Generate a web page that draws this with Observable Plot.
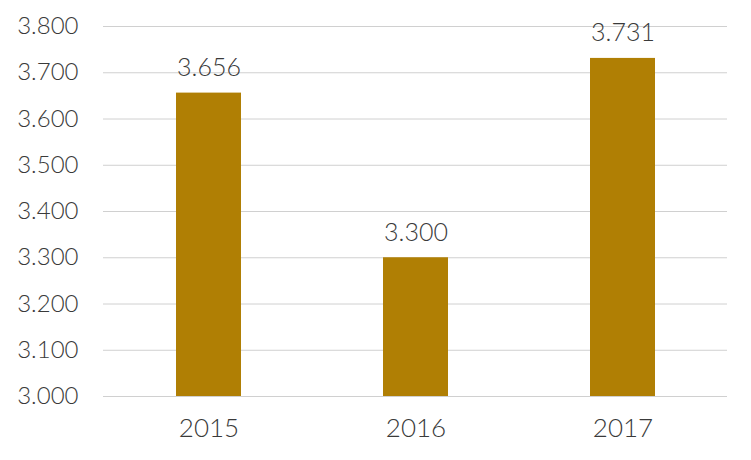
<!DOCTYPE html>
<html><head><meta charset="utf-8">
<script src="https://cdn.jsdelivr.net/npm/d3@7"></script>
<script src="https://cdn.jsdelivr.net/npm/@observablehq/plot@0.6"></script>
<style>
body{margin:0;background:#fff;}
svg{font-family:Lato, "Noto Sans", sans-serif;font-weight:300;}
</style>
</head><body><div id="chart"></div>
<script>
const years = ["2015", "2016", "2017"];
const values = [3656, 3300, 3731];
const yTicks = [3000, 3100, 3200, 3300, 3400, 3500, 3600, 3700, 3800];

const data = years.map((y, i) => ({year: y, value: values[i]}));
const loc = d3.formatLocale({decimal: ",", thousands: ".", grouping: [3], currency: ["", ""]});
const fmt = loc.format(",d");

const chart = Plot.plot({
  width: 751,
  height: 460,
  marginLeft: 103,
  marginRight: 24,
  marginTop: 26,
  marginBottom: 64,
  x: {domain: years, paddingInner: 0.6875, paddingOuter: 0.344, label: null},
  y: {domain: [3000, 3800], label: null},
  marks: [
    Plot.ruleY(yTicks, {stroke: "#d0d0d0", strokeWidth: 1}),
    Plot.rectY(data, {x: "year", y1: 3000, y2: "value", fill: "#B07F04"}),
    Plot.text(data, {x: "year", y: "value", text: d => fmt(d.value), dy: -25, fontSize: 25, fill: "#3a3a3a", fontWeight: 300}),
    Plot.axisY({ticks: yTicks, tickFormat: fmt, tickSize: 0, tickPadding: 25, fontSize: 24, color: "#3a3a3a", fontWeight: 300}),
    Plot.axisX({tickSize: 0, tickPadding: 22, fontSize: 26, color: "#3a3a3a", fontWeight: 300})
  ]
});
document.getElementById("chart").append(chart);
</script>
</body></html>
